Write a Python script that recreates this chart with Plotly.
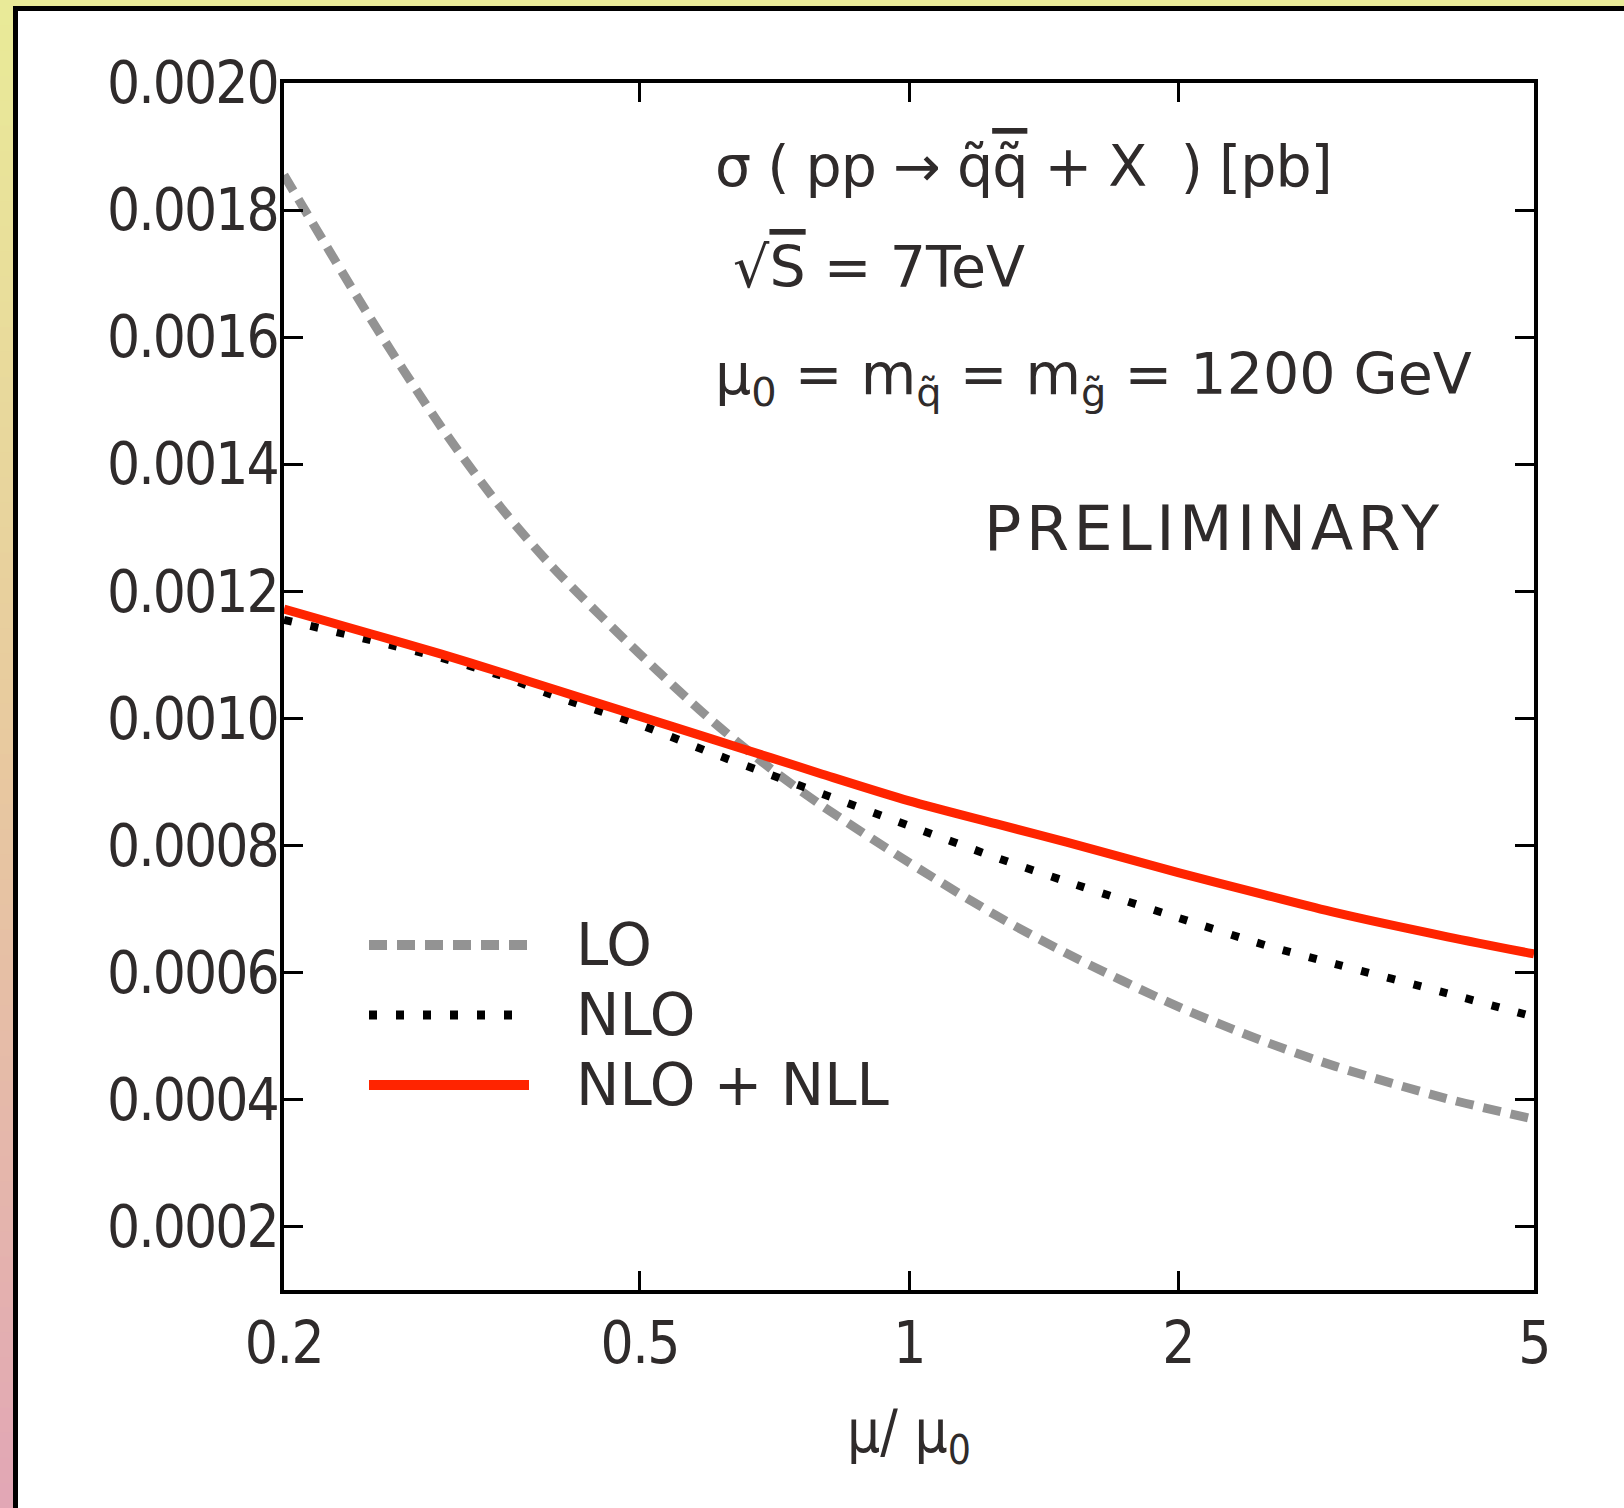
import math
import plotly.graph_objects as go

# ---------------- data ----------------
mu_ratio = [0.2, 0.25, 0.3, 0.35, 0.4, 0.5, 0.6, 0.7, 0.8, 1.0, 1.25, 1.5, 2.0, 2.5, 3.0, 4.0, 5.0]
sigma_lo = [0.001855, 0.001629, 0.001458, 0.001331, 0.001237, 0.001101, 0.000998, 0.000921, 0.000862,
            0.000773, 0.000690, 0.000630, 0.000546, 0.000491, 0.000452, 0.000401, 0.000369]
sigma_nlo = [0.001155, 0.001123, 0.001095, 0.001067, 0.001036, 0.000990, 0.000946, 0.000911, 0.000881,
             0.000831, 0.000781, 0.000743, 0.000686, 0.000643, 0.000613, 0.000567, 0.000530]
sigma_nlo_nll = [0.001172, 0.001133, 0.001101, 0.001072, 0.001046, 0.001003, 0.000968, 0.000938, 0.000912,
                 0.000870, 0.000834, 0.000805, 0.000757, 0.000722, 0.000694, 0.000656, 0.000629]

x_tickvals = [0.2, 0.5, 1, 2, 5]
x_ticktext = ["0.2", "0.5", "1", "2", "5"]
y_tickvals = [0.0002, 0.0004, 0.0006, 0.0008, 0.0010, 0.0012, 0.0014, 0.0016, 0.0018, 0.0020]

series_names = ["LO", "NLO", "NLO + NLL"]
series_colors = ["#939393", "#000000", "#ff2400"]
series_dash = ["18px,10px", "8px,19px", "solid"]

TXT = "#2f2b2b"
FONT = "DejaVu Sans"
FONT_C = "DejaVu Sans Condensed, Liberation Sans Narrow, DejaVu Sans"

W, H = 1624, 1508
L, R, T, B = 284, 90, 83, 218
PW, PH = W - L - R, H - T - B


def px(xpix):
    return (xpix - L) / PW


def py(ypix):
    return (H - B - ypix) / PH


def tight(s, sp):
    return "<span style='letter-spacing:%s'>%s</span>" % (sp, s)


fig = go.Figure()
for name, ys, col, dash in zip(series_names, [sigma_lo, sigma_nlo, sigma_nlo_nll], series_colors, series_dash):
    fig.add_trace(go.Scatter(
        x=mu_ratio, y=ys, mode="lines", name=name, showlegend=False,
        line=dict(color=col, width=9 if name != "NLO" else 8, dash=dash, shape="spline", smoothing=0.8),
    ))

axis_common = dict(
    showgrid=False, zeroline=False, showline=True, linecolor="black", linewidth=3.5,
    mirror="allticks", ticks="inside", ticklen=19, tickwidth=2.5, tickcolor="black",
    tickfont=dict(family=FONT_C, size=58, color=TXT),
)

fig.update_xaxes(
    type="log", range=[math.log10(0.2), math.log10(5)],
    tickvals=x_tickvals, ticktext=[tight(t, "-1.5px") for t in x_ticktext],
    title=dict(text="μ/ μ<sub>0</sub>", font=dict(family=FONT_C, size=58, color=TXT), standoff=36),
    **axis_common,
)
fig.update_yaxes(
    range=[0.0001, 0.0020], tickvals=y_tickvals,
    ticktext=[tight("%.4f" % v, "-2px") for v in y_tickvals],
    ticklabelstandoff=-9,
    **axis_common,
)

shapes = []
# page decoration: gradient strip on the left, yellow strip on top, black frame lines
top_col = (0xe9, 0xea, 0x98)
mid_col = (0xe8, 0xc9, 0x9f)
bot_col = (0xe2, 0xa7, 0xb5)
n = 60
for i in range(n):
    t = i / (n - 1)
    if t < 0.5:
        a, b_, f = top_col, mid_col, t / 0.5
    else:
        a, b_, f = mid_col, bot_col, (t - 0.5) / 0.5
    c = tuple(int(round(a[k] + (b_[k] - a[k]) * f)) for k in range(3))
    y0p = i * H / n
    y1p = (i + 1) * H / n + 1
    shapes.append(dict(type="rect", xref="paper", yref="paper", x0=px(0), x1=px(13),
                       y0=py(y1p), y1=py(y0p), fillcolor="rgb(%d,%d,%d)" % c, line=dict(width=0)))
shapes.append(dict(type="rect", xref="paper", yref="paper", x0=px(0), x1=px(W), y0=py(6), y1=py(0),
                   fillcolor="rgb(233,234,152)", line=dict(width=0)))
shapes.append(dict(type="rect", xref="paper", yref="paper", x0=px(13), x1=px(18), y0=py(H), y1=py(6),
                   fillcolor="black", line=dict(width=0)))
shapes.append(dict(type="rect", xref="paper", yref="paper", x0=px(13), x1=px(W), y0=py(11), y1=py(6),
                   fillcolor="black", line=dict(width=0)))

# legend samples
leg_y = [945, 1015, 1085]
for name, col, dash, yy in zip(series_names, series_colors, series_dash, leg_y):
    shapes.append(dict(type="line", xref="paper", yref="paper", x0=px(369), x1=px(529), y0=py(yy), y1=py(yy),
                       line=dict(color=col, width=10 if name != "NLO" else 9, dash=dash)))

annotations = []
for name, yy in zip(series_names, leg_y):
    annotations.append(dict(xref="paper", yref="paper", x=px(574), y=py(yy), xanchor="left", yanchor="middle",
                            text=name, showarrow=False, font=dict(family=FONT, size=58, color=TXT)))

info_lines = [
    (tight("σ ( pp → q\u0303<span style='text-decoration:overline'>q\u0303</span> + X  ) [pb]", "-1px"), 166),
    (" √<span style='text-decoration:overline'>S</span> = 7TeV", 267),
    ("μ<sub>0</sub> = m<sub>q\u0303</sub> = m<sub>g\u0303</sub> = 1200 GeV", 378),
]
for txt, yy in info_lines:
    annotations.append(dict(xref="paper", yref="paper", x=px(713), y=py(yy), xanchor="left", yanchor="middle",
                            text=txt, showarrow=False, font=dict(family=FONT, size=57, color=TXT)))
annotations.append(dict(xref="paper", yref="paper", x=px(982), y=py(528), xanchor="left", yanchor="middle",
                        text=tight("PRELIMINARY", "4.5px"), showarrow=False,
                        font=dict(family=FONT, size=62, color=TXT)))

fig.update_layout(
    width=W, height=H, margin=dict(l=L, r=R, t=T, b=B, pad=0),
    paper_bgcolor="white", plot_bgcolor="white",
    shapes=shapes, annotations=annotations, showlegend=False,
)

fig.write_html("out.html")
